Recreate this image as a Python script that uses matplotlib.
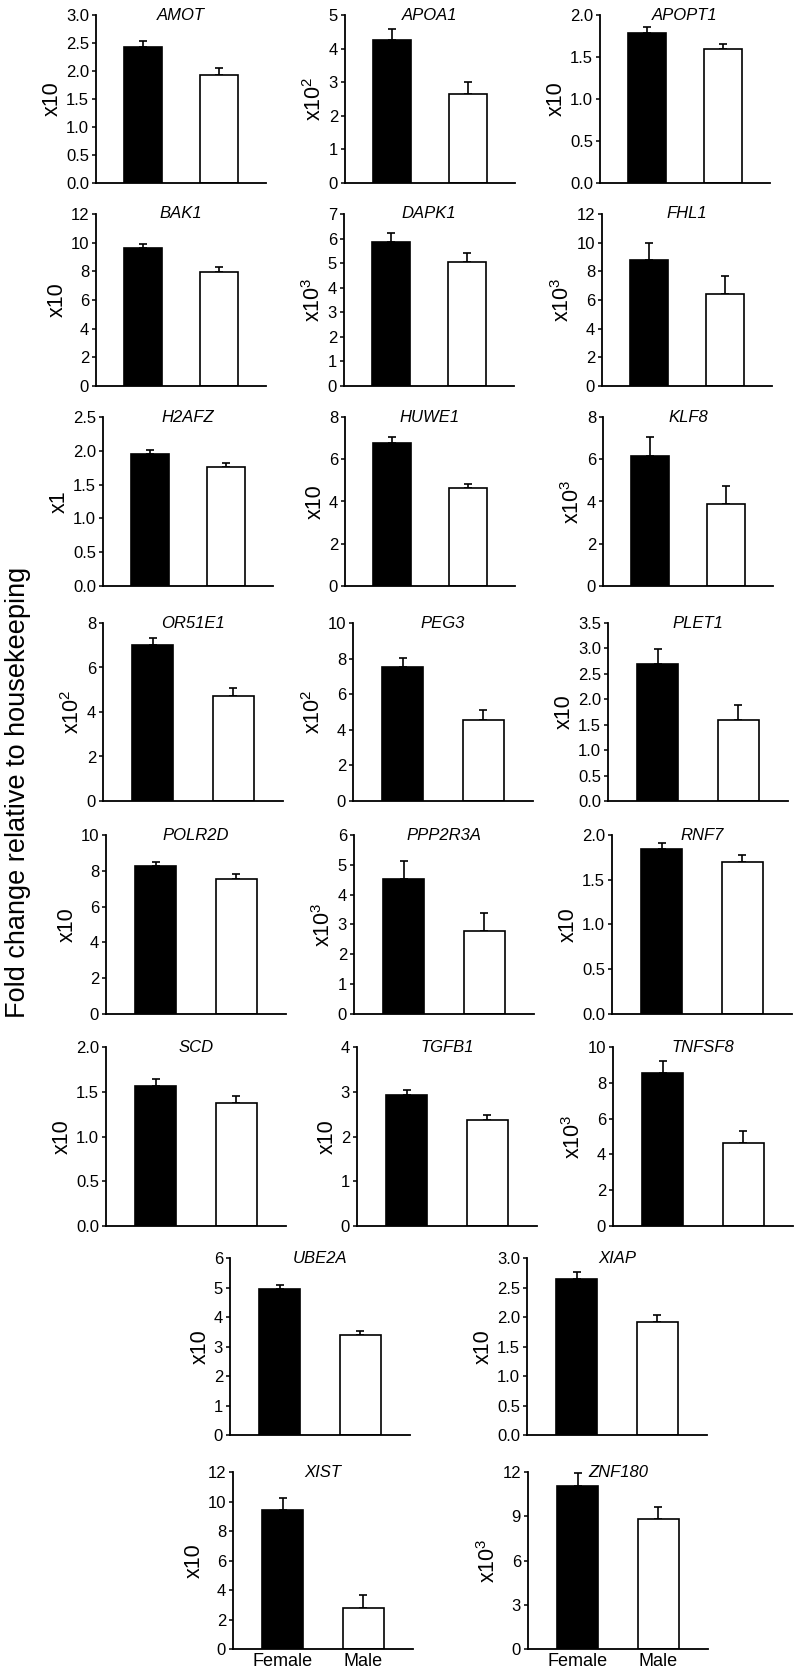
import matplotlib
matplotlib.use('Agg')
import matplotlib.pyplot as plt

plt.rcParams['font.family'] = ['Liberation Sans', 'DejaVu Sans']
plt.rcParams['mathtext.default'] = 'regular'

# gene panels (values in the units of each panel's y axis)
genes = ['AMOT', 'APOA1', 'APOPT1', 'BAK1', 'DAPK1', 'FHL1', 'H2AFZ', 'HUWE1',
         'KLF8', 'OR51E1', 'PEG3', 'PLET1', 'POLR2D', 'PPP2R3A', 'RNF7', 'SCD',
         'TGFB1', 'TNFSF8', 'UBE2A', 'XIAP', 'XIST', 'ZNF180']
scale_labels = ['x10', 'x10$^2$', 'x10', 'x10', 'x10$^3$', 'x10$^3$', 'x1', 'x10',
                'x10$^3$', 'x10$^2$', 'x10$^2$', 'x10', 'x10', 'x10$^3$', 'x10', 'x10',
                'x10', 'x10$^3$', 'x10', 'x10', 'x10', 'x10$^3$']
female = [2.42, 4.26, 1.79, 9.65, 5.88, 8.76, 1.95, 6.79, 6.16, 7.00, 7.53, 2.69,
          8.28, 4.53, 1.84, 1.56, 2.92, 8.52, 4.94, 2.64, 9.43, 11.06]
female_err = [0.12, 0.31, 0.07, 0.25, 0.36, 1.20, 0.06, 0.24, 0.87, 0.34, 0.49, 0.29,
              0.19, 0.59, 0.07, 0.08, 0.12, 0.72, 0.14, 0.12, 0.82, 0.84]
male = [1.92, 2.66, 1.59, 7.95, 5.05, 6.41, 1.76, 4.62, 3.86, 4.72, 4.55, 1.60,
        7.56, 2.79, 1.70, 1.37, 2.36, 4.63, 3.38, 1.91, 2.79, 8.80]
male_err = [0.14, 0.36, 0.07, 0.33, 0.37, 1.23, 0.06, 0.22, 0.89, 0.34, 0.54, 0.29,
            0.26, 0.60, 0.08, 0.08, 0.12, 0.70, 0.14, 0.12, 0.86, 0.80]
y_max = [3, 5, 2, 12, 7, 12, 2.5, 8, 8, 8, 10, 3.5, 10, 6, 2, 2, 4, 10, 6, 3, 12, 12]
y_step = [0.5, 1, 0.5, 2, 1, 2, 0.5, 2, 2, 2, 2, 0.5, 2, 1, 0.5, 0.5, 1, 2, 1, 0.5, 2, 3]
groups = ['Female', 'Male']

# layout in pixels of the 794x1676 figure
W, H = 794, 1676
rows = [(15, 183), (214, 386), (417, 586), (623, 801),
        (835, 1014), (1047, 1226), (1258, 1435), (1472, 1649)]
cols = [[(96, 170), (345, 170), (600, 170)],
        [(96, 170), (344, 170), (602, 170)],
        [(103, 170), (345, 170), (603, 170)],
        [(103, 180), (353, 180), (608, 180)],
        [(106, 180), (354, 180), (612, 180)],
        [(106, 180), (357, 180), (613, 180)],
        [(230, 180), (527, 180)],
        [(233, 180), (528, 180)]]

fig = plt.figure(figsize=(W / 100, H / 100), dpi=100)

i = 0
for r, (top, bottom) in enumerate(rows):
    for left, width in cols[r]:
        ax = fig.add_axes([left / W, 1 - bottom / H, width / W, (bottom - top) / H])
        ax.bar([0, 1], [female[i], male[i]], width=0.51, color=['black', 'white'],
               edgecolor='black', linewidth=1.2, zorder=2)
        ax.errorbar([0, 1], [female[i], male[i]],
                    yerr=[[0, 0], [female_err[i], male_err[i]]], fmt='none',
                    ecolor='black', elinewidth=1.2, capsize=3, capthick=1.2, zorder=1)
        ax.set_xlim(-0.62, 1.62)
        ax.set_ylim(0, y_max[i])
        n = int(round(y_max[i] / y_step[i]))
        ticks = [k * y_step[i] for k in range(n + 1)]
        ax.set_yticks(ticks)
        if y_step[i] < 1:
            ax.set_yticklabels(['%.1f' % t for t in ticks])
        else:
            ax.set_yticklabels(['%d' % t for t in ticks])
        ax.tick_params(axis='y', direction='out', length=3, width=1.1, labelsize=12, pad=2)
        if r == len(rows) - 1:
            ax.set_xticks([0, 1])
            ax.set_xticklabels(groups, fontsize=13)
            ax.tick_params(axis='x', length=0, pad=3)
        else:
            ax.set_xticks([])
        for s in ['top', 'right']:
            ax.spines[s].set_visible(False)
        for s in ['left', 'bottom']:
            ax.spines[s].set_linewidth(1.3)
        ax.set_ylabel(scale_labels[i], fontsize=15.5, labelpad=2)
        ax.text(0.5, 1.0, genes[i], transform=ax.transAxes, ha='center', va='center',
                style='italic', fontsize=12)
        i += 1

fig.text(18 / W, 1 - 792 / H, 'Fold change relative to housekeeping', rotation=90,
         ha='center', va='center', fontsize=19.5)

plt.savefig('out.png', dpi=100)
